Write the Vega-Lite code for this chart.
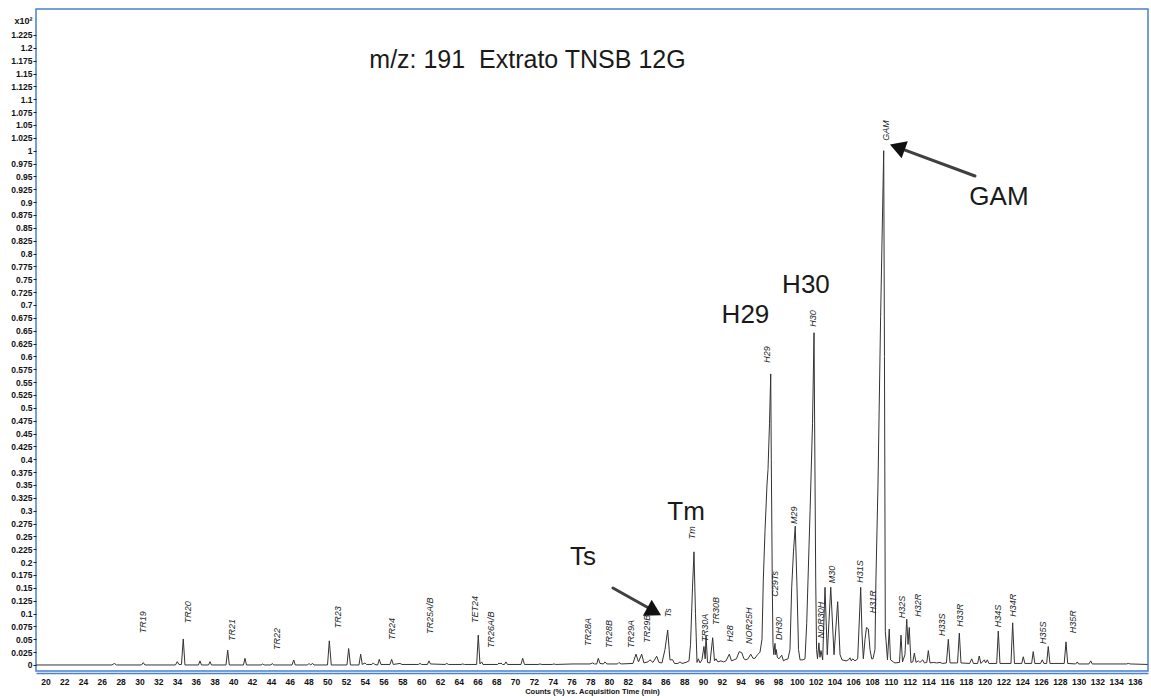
{
  "$schema": "https://vega.github.io/schema/vega-lite/v6.json",
  "width": 1112,
  "height": 662,
  "autosize": {"type": "none"},
  "padding": {"left": 36, "top": 9, "right": 3, "bottom": 29},
  "background": "white",
  "config": {
    "view": {"stroke": "#4a7fd0", "strokeWidth": 1.5},
    "font": "Liberation Sans"
  },
  "datasets": {
    "trace": [
      {"t":19.0,"v":0},{"t":27.08,"v":0},{"t":27.33,"v":0.003},{"t":27.56,"v":0},
      {"t":30.22,"v":0},{"t":30.41,"v":0.0045},{"t":30.59,"v":0},
      {"t":33.84,"v":0},{"t":34.03,"v":0.0065},{"t":34.21,"v":0.001},{"t":34.48,"v":0.001},{"t":34.67,"v":0.0506},{"t":34.85,"v":0},
      {"t":36.29,"v":0},{"t":36.45,"v":0.008},{"t":36.61,"v":0},
      {"t":37.36,"v":0},{"t":37.52,"v":0.0065},{"t":37.67,"v":0},
      {"t":39.22,"v":0},{"t":39.40,"v":0.029},{"t":39.57,"v":0},
      {"t":41.08,"v":0},{"t":41.24,"v":0.013},{"t":41.40,"v":0},
      {"t":42.95,"v":0},{"t":43.13,"v":0.002},{"t":43.26,"v":0},
      {"t":44.01,"v":0},{"t":44.15,"v":0.003},{"t":44.30,"v":0},
      {"t":46.25,"v":0},{"t":46.43,"v":0.0097},{"t":46.60,"v":0},
      {"t":47.90,"v":0},{"t":48.06,"v":0.003},{"t":48.22,"v":0},{"t":48.45,"v":0.003},{"t":48.59,"v":0},
      {"t":50.03,"v":0},{"t":50.22,"v":0.047},{"t":50.43,"v":0},
      {"t":52.10,"v":0},{"t":52.28,"v":0.032},{"t":52.47,"v":0},
      {"t":53.38,"v":0},{"t":53.56,"v":0.021},{"t":53.73,"v":0.001},{"t":54.02,"v":0.004},{"t":54.18,"v":0.001},
      {"t":54.76,"v":0.001},{"t":54.90,"v":0.004},{"t":55.05,"v":0.001},
      {"t":55.37,"v":0},{"t":55.54,"v":0.011},{"t":55.72,"v":0.001},
      {"t":56.68,"v":0.001},{"t":56.86,"v":0.011},{"t":57.03,"v":0.001},
      {"t":57.75,"v":0.003},{"t":57.96,"v":0.001},
      {"t":59.70,"v":0.001},{"t":59.87,"v":0.003},{"t":60.05,"v":0.001},
      {"t":60.67,"v":0.001},{"t":60.83,"v":0.008},{"t":60.99,"v":0.002},
      {"t":62.55,"v":0.001},{"t":62.72,"v":0.003},{"t":62.91,"v":0.001},
      {"t":64.25,"v":0.001},{"t":64.42,"v":0.002},{"t":64.60,"v":0.001},
      {"t":65.91,"v":0.001},{"t":66.08,"v":0.058},{"t":66.26,"v":0.002},{"t":66.44,"v":0.006},{"t":66.58,"v":0.001},
      {"t":68.15,"v":0.001},{"t":68.29,"v":0.004},{"t":68.39,"v":0.002},{"t":68.50,"v":0.004},{"t":68.66,"v":0.001},
      {"t":68.87,"v":0.001},{"t":69.03,"v":0.006},{"t":69.19,"v":0.001},
      {"t":70.63,"v":0.001},{"t":70.81,"v":0.013},{"t":71.00,"v":0.001},
      {"t":72.45,"v":0.001},{"t":72.65,"v":0.002},{"t":72.85,"v":0.001},
      {"t":73.95,"v":0.001},{"t":74.14,"v":0.002},{"t":74.33,"v":0.001},
      {"t":76.17,"v":0.002},
      {"t":77.98,"v":0.002},{"t":78.26,"v":0.004},{"t":78.45,"v":0.002},{"t":78.70,"v":0.002},{"t":78.86,"v":0.013},{"t":79.04,"v":0.003},{"t":79.40,"v":0.002},{"t":79.57,"v":0.006},{"t":79.78,"v":0.002},
      {"t":80.90,"v":0.002},{"t":81.06,"v":0.005},{"t":81.28,"v":0.002},
      {"t":82.55,"v":0.003},{"t":82.87,"v":0.021},{"t":83.14,"v":0.006},{"t":83.48,"v":0.021},{"t":83.72,"v":0.004},
      {"t":84.15,"v":0.006},{"t":84.36,"v":0.01},{"t":84.68,"v":0.005},{"t":85.08,"v":0.017},{"t":85.32,"v":0.005},
      {"t":85.64,"v":0.004},{"t":85.96,"v":0.03},{"t":86.25,"v":0.068},{"t":86.49,"v":0.01},{"t":86.78,"v":0.01},{"t":86.97,"v":0.003},
      {"t":87.34,"v":0.003},{"t":87.56,"v":0.006},{"t":87.77,"v":0.003},
      {"t":88.20,"v":0.005},{"t":88.52,"v":0.008},{"t":88.68,"v":0.04},{"t":88.89,"v":0.15},{"t":89.05,"v":0.22},{"t":89.21,"v":0.1},{"t":89.37,"v":0.005},
      {"t":89.51,"v":0.012},{"t":89.69,"v":0.004},
      {"t":89.90,"v":0.01},{"t":90.11,"v":0.036},{"t":90.24,"v":0.012},{"t":90.33,"v":0.057},{"t":90.49,"v":0.005},
      {"t":90.75,"v":0.004},{"t":91.04,"v":0.053},{"t":91.23,"v":0.008},{"t":91.39,"v":0.012},{"t":91.60,"v":0.006},
      {"t":91.92,"v":0.008},{"t":92.19,"v":0.006},{"t":92.46,"v":0.008},{"t":92.81,"v":0.021},{"t":93.04,"v":0.008},{"t":93.31,"v":0.01},{"t":93.57,"v":0.012},{"t":93.87,"v":0.026},{"t":94.13,"v":0.024},{"t":94.37,"v":0.012},{"t":94.58,"v":0.01},{"t":94.80,"v":0.012},{"t":95.09,"v":0.021},{"t":95.33,"v":0.013},{"t":95.54,"v":0.013},{"t":95.81,"v":0.02},{"t":96.08,"v":0.025},
      {"t":96.29,"v":0.05},{"t":96.43,"v":0.165},{"t":96.61,"v":0.26},{"t":96.82,"v":0.35},{"t":96.93,"v":0.38},{"t":97.09,"v":0.47},{"t":97.22,"v":0.566},{"t":97.28,"v":0.4},{"t":97.39,"v":0.15},{"t":97.46,"v":0.04},
      {"t":97.55,"v":0.02},{"t":97.67,"v":0.042},{"t":97.75,"v":0.02},{"t":97.81,"v":0.03},{"t":97.92,"v":0.015},{"t":98.10,"v":0.012},{"t":98.39,"v":0.019},{"t":98.58,"v":0.008},{"t":98.74,"v":0.01},{"t":99.06,"v":0.012},
      {"t":99.27,"v":0.03},{"t":99.45,"v":0.15},{"t":99.64,"v":0.22},{"t":99.83,"v":0.27},{"t":100.02,"v":0.15},{"t":100.18,"v":0.03},{"t":100.34,"v":0.01},{"t":100.66,"v":0.01},{"t":100.87,"v":0.012},
      {"t":101.05,"v":0.08},{"t":101.19,"v":0.165},{"t":101.41,"v":0.3},{"t":101.67,"v":0.47},{"t":101.83,"v":0.646},{"t":101.94,"v":0.35},{"t":102.01,"v":0.165},{"t":102.10,"v":0.03},{"t":102.20,"v":0.012},
      {"t":102.35,"v":0.043},{"t":102.46,"v":0.015},{"t":102.57,"v":0.028},{"t":102.75,"v":0.01},
      {"t":103.00,"v":0.151},{"t":103.24,"v":0.02},{"t":103.61,"v":0.151},{"t":103.96,"v":0.02},{"t":104.35,"v":0.123},{"t":104.60,"v":0.02},{"t":104.81,"v":0.01},{"t":105.24,"v":0.008},{"t":105.50,"v":0.01},{"t":105.66,"v":0.014},{"t":105.80,"v":0.008},{"t":105.95,"v":0.012},{"t":106.19,"v":0.008},{"t":106.48,"v":0.012},
      {"t":106.80,"v":0.151},{"t":106.94,"v":0.06},{"t":107.08,"v":0.012},{"t":107.26,"v":0.05},{"t":107.42,"v":0.073},{"t":107.61,"v":0.07},{"t":107.79,"v":0.03},{"t":107.97,"v":0.012},{"t":108.11,"v":0.012},
      {"t":108.32,"v":0.03},{"t":108.42,"v":0.165},{"t":108.64,"v":0.35},{"t":108.92,"v":0.677},{"t":109.25,"v":1.0},{"t":109.33,"v":0.6},{"t":109.42,"v":0.065},{"t":109.51,"v":0.045},{"t":109.65,"v":0.01},{"t":109.84,"v":0.07},{"t":109.97,"v":0.01},
      {"t":110.13,"v":0.008},{"t":110.27,"v":0.006},{"t":110.45,"v":0.004},{"t":110.93,"v":0.005},{"t":111.09,"v":0.058},{"t":111.25,"v":0.006},{"t":111.33,"v":0.01},{"t":111.51,"v":0.02},{"t":111.70,"v":0.089},{"t":111.84,"v":0.04},{"t":111.97,"v":0.073},{"t":112.15,"v":0.005},
      {"t":112.35,"v":0.006},{"t":112.51,"v":0.023},{"t":112.69,"v":0.005},{"t":112.93,"v":0.008},{"t":113.11,"v":0.005},{"t":113.40,"v":0.01},{"t":113.59,"v":0.004},{"t":113.84,"v":0.005},{"t":114.00,"v":0.028},{"t":114.18,"v":0.004},
      {"t":114.53,"v":0.005},{"t":114.89,"v":0.004},{"t":115.24,"v":0.005},{"t":115.50,"v":0.003},{"t":115.93,"v":0.004},{"t":116.13,"v":0.05},{"t":116.31,"v":0.004},
      {"t":117.11,"v":0.004},{"t":117.30,"v":0.062},{"t":117.48,"v":0.004},
      {"t":118.40,"v":0.003},{"t":118.62,"v":0.012},{"t":118.80,"v":0.003},{"t":119.25,"v":0.003},{"t":119.42,"v":0.0175},{"t":119.60,"v":0.003},{"t":119.96,"v":0.01},{"t":120.10,"v":0.004},{"t":120.28,"v":0.01},{"t":120.45,"v":0.003},
      {"t":121.28,"v":0.003},{"t":121.45,"v":0.066},{"t":121.63,"v":0.003},
      {"t":122.80,"v":0.003},{"t":122.98,"v":0.082},{"t":123.17,"v":0.003},
      {"t":123.95,"v":0.003},{"t":124.11,"v":0.016},{"t":124.28,"v":0.003},
      {"t":125.00,"v":0.003},{"t":125.17,"v":0.026},{"t":125.34,"v":0.003},
      {"t":125.95,"v":0.003},{"t":126.13,"v":0.01},{"t":126.30,"v":0.003},
      {"t":126.60,"v":0.003},{"t":126.77,"v":0.036},{"t":126.95,"v":0.003},
      {"t":128.47,"v":0.003},{"t":128.66,"v":0.045},{"t":128.84,"v":0.003},
      {"t":129.70,"v":0.002},{"t":129.86,"v":0.006},{"t":130.00,"v":0.002},
      {"t":131.10,"v":0.002},{"t":131.29,"v":0.008},{"t":131.45,"v":0.002},
      {"t":133.35,"v":0.002},{"t":135.10,"v":0.002},{"t":135.29,"v":0.003},{"t":135.50,"v":0.002},{"t":137.35,"v":0.001}
    ],
    "peaks": [
      {"name":"TR19","t":30.41,"v":0.0616},
      {"name":"TR20","t":35.20,"v":0.0811},
      {"name":"TR21","t":39.89,"v":0.0467},
      {"name":"TR22","t":44.62,"v":0.0292},
      {"name":"TR23","t":51.11,"v":0.0714},
      {"name":"TR24","t":56.86,"v":0.0486},
      {"name":"TR25A/B","t":60.94,"v":0.0603},
      {"name":"TET24","t":65.73,"v":0.0817},
      {"name":"TR26A/B","t":67.40,"v":0.0331},
      {"name":"TR28A","t":77.73,"v":0.0369},
      {"name":"TR28B","t":80.03,"v":0.0331},
      {"name":"TR29A","t":82.31,"v":0.0331},
      {"name":"TR29B","t":84.01,"v":0.0434},
      {"name":"Ts","t":86.25,"v":0.0927},
      {"name":"Tm","t":88.87,"v":0.2444},
      {"name":"TR30A","t":90.22,"v":0.0453},
      {"name":"TR30B","t":91.39,"v":0.0778},
      {"name":"H28","t":92.88,"v":0.0453},
      {"name":"NOR25H","t":94.94,"v":0.0408},
      {"name":"H29","t":96.85,"v":0.5878},
      {"name":"C29Ts","t":97.67,"v":0.1328},
      {"name":"DH30","t":98.13,"v":0.0486},
      {"name":"M29","t":99.75,"v":0.2742},
      {"name":"H30","t":101.69,"v":0.6578},
      {"name":"NOR30H","t":102.54,"v":0.0519},
      {"name":"M30","t":103.71,"v":0.1589},
      {"name":"H31S","t":106.72,"v":0.16},
      {"name":"H31R","t":108.08,"v":0.1005},
      {"name":"GAM","t":109.49,"v":1.0194},
      {"name":"H32S","t":111.16,"v":0.0908},
      {"name":"H32R","t":112.87,"v":0.0939},
      {"name":"H33S","t":115.42,"v":0.0564},
      {"name":"H33R","t":117.37,"v":0.0745},
      {"name":"H34S","t":121.45,"v":0.0733},
      {"name":"H34R","t":122.98,"v":0.0939},
      {"name":"H35S","t":126.24,"v":0.0408},
      {"name":"H35R","t":129.37,"v":0.0616}
    ],
    "notes": [
      {"label":"GAM","t":121.52,"v":0.910},
      {"label":"H30","t":100.97,"v":0.739},
      {"label":"H29","t":94.53,"v":0.681},
      {"label":"Tm","t":88.20,"v":0.2975},
      {"label":"Ts","t":77.23,"v":0.210}
    ],
    "heading": [
      {"label":"m/z: 191 \u00a0Extrato TNSB 12G","t":71.32,"v":1.176}
    ],
    "arrows": [
      {"name":"Ts","t":80.42,"v":0.1497,"t2":84.79,"v2":0.105},
      {"name":"GAM","t":118.97,"v":0.9508,"t2":110.66,"v2":1.007}
    ],
    "heads": [
      {"name":"Ts","t":84.81,"v":0.104},
      {"name":"GAM","t":110.70,"v":1.007}
    ]
  },
  "encoding": {
    "x": {
      "field": "t", "type": "quantitative",
      "scale": {"domain": [18.99, 137.39], "nice": false, "zero": false},
      "axis": {
        "values": [20,22,24,26,28,30,32,34,36,38,40,42,44,46,48,50,52,54,56,58,60,62,64,66,68,70,72,74,76,78,80,82,84,86,88,90,92,94,96,98,100,102,104,106,108,110,112,114,116,118,120,122,124,126,128,130,132,134,136],
        "format": "d",
        "grid": false,
        "ticks": false,
        "tickSize": 0,
        "offset": 2,
        "domainColor": "#4a7fd0",
        "domainWidth": 1.5,
        "labelFont": "Liberation Sans",
        "labelFontSize": 8.5,
        "labelFontWeight": "bold",
        "labelColor": "#111111",
        "labelPadding": 4,
        "labelOverlap": false,
        "labelFlush": false,
        "title": "Counts (%) vs. Acquisition Time (min)",
        "titleFont": "Liberation Sans",
        "titleFontSize": 7.5,
        "titleFontWeight": "bold",
        "titleColor": "#111111",
        "titlePadding": 2
      }
    },
    "y": {
      "field": "v", "type": "quantitative",
      "scale": {"domain": [-0.0117, 1.2755], "nice": false, "zero": false},
      "axis": {
        "values": [0,0.025,0.05,0.075,0.1,0.125,0.15,0.175,0.2,0.225,0.25,0.275,0.3,0.325,0.35,0.375,0.4,0.425,0.45,0.475,0.5,0.525,0.55,0.575,0.6,0.625,0.65,0.675,0.7,0.725,0.75,0.775,0.8,0.825,0.85,0.875,0.9,0.925,0.95,0.975,1,1.025,1.05,1.075,1.1,1.125,1.15,1.175,1.2,1.225],
        "format": ".3~f",
        "grid": false,
        "domain": false,
        "ticks": true,
        "tickSize": 3,
        "tickColor": "#222222",
        "labelFont": "Liberation Sans",
        "labelFontSize": 8.5,
        "labelFontWeight": "bold",
        "labelColor": "#111111",
        "labelPadding": 1,
        "labelOverlap": false,
        "labelFlush": false,
        "title": "x10\u00b2",
        "titleAngle": 0,
        "titleAlign": "right",
        "titleBaseline": "middle",
        "titleX": -4,
        "titleY": 11,
        "titleFont": "Liberation Sans",
        "titleFontSize": 9,
        "titleFontWeight": "bold",
        "titleColor": "#111111"
      }
    }
  },
  "layer": [
    {
      "data": {"name": "trace"},
      "mark": {"type": "line", "color": "#333333", "strokeWidth": 1, "interpolate": "linear"}
    },
    {
      "data": {"name": "peaks"},
      "mark": {"type": "text", "angle": 270, "align": "left", "baseline": "middle", "font": "Liberation Sans", "fontStyle": "italic", "fontSize": 9, "color": "#1c1f2a"},
      "encoding": {"text": {"field": "name"}}
    },
    {
      "data": {"name": "notes"},
      "mark": {"type": "text", "align": "center", "baseline": "middle", "font": "Liberation Sans", "fontSize": 26, "color": "#1a1a1a"},
      "encoding": {"text": {"field": "label"}}
    },
    {
      "data": {"name": "heading"},
      "mark": {"type": "text", "align": "center", "baseline": "middle", "font": "Liberation Sans", "fontSize": 25, "color": "#1a1a1a"},
      "encoding": {"text": {"field": "label"}}
    },
    {
      "data": {"name": "arrows"},
      "mark": {"type": "rule", "color": "#2b2b2b", "strokeWidth": 3, "strokeCap": "round", "opacity": 0.9},
      "encoding": {
        "x2": {"field": "t2"},
        "y2": {"field": "v2"}
      }
    },
    {
      "data": {"name": "heads"},
      "transform": [{"filter": "datum.name === 'Ts'"}],
      "mark": {"type": "point", "shape": "triangle-right", "angle": 29, "size": 330, "filled": true, "color": "#111111", "opacity": 1}
    },
    {
      "data": {"name": "heads"},
      "transform": [{"filter": "datum.name === 'GAM'"}],
      "mark": {"type": "point", "shape": "triangle-left", "angle": 20, "size": 330, "filled": true, "color": "#111111", "opacity": 1}
    }
  ]
}
